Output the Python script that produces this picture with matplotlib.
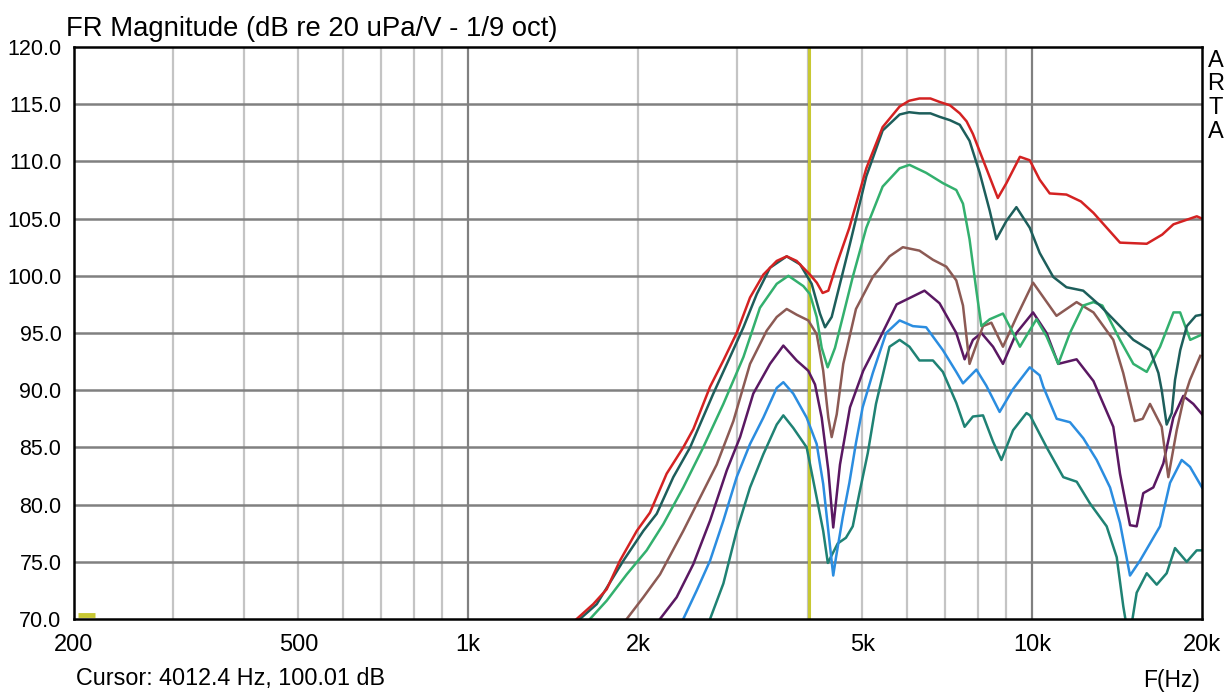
import numpy as np
import matplotlib.pyplot as plt

plt.rcParams['font.family'] = ['Liberation Sans', 'DejaVu Sans']

# curve data (Hz, dB)
red_f = [1557, 1666, 1760, 1858, 1990, 2100, 2248, 2406, 2507, 2684, 2834, 2992, 3160, 3336,
         3524, 3670, 3822, 4036, 4150, 4250, 4350, 4500, 4740, 5080, 5430, 5820, 6050, 6310, 6600,
         6850, 7150, 7440, 7650, 7850, 8290, 8690, 9000, 9510, 9900, 10310, 10740, 11500, 12200,
         12840, 14310, 15960, 17000, 17800, 19580, 20000]
red_db = [70.0, 71.3, 72.6, 75.1, 77.7, 79.3, 82.7, 85.0, 86.6, 90.3, 92.6, 95.0, 98.1, 100.1,
          101.3, 101.7, 101.3, 100.1, 99.4, 98.5, 98.7, 101.0, 104.2, 109.4, 113.0, 114.8, 115.3, 115.5, 115.5,
          115.2, 114.9, 114.2, 113.5, 112.4, 109.4, 106.8, 108.1, 110.4, 110.1, 108.4, 107.2, 107.1, 106.5,
          105.5, 102.9, 102.8, 103.6, 104.5, 105.2, 105.0]

dteal_f = [1578, 1690, 1884, 2044, 2159, 2310, 2474, 2720, 2912, 3076, 3248, 3428, 3670, 3876,
           4064, 4204, 4292, 4410, 4562, 4752, 5080, 5430, 5820, 6050, 6310, 6600, 6850, 7150, 7440,
           7742, 8070, 8406, 8638, 9000, 9374, 9900, 10310, 10896, 11500, 12314, 13188, 14310, 15112,
           16182, 16740, 16966, 17314, 17674, 17914, 18300, 18798, 19500, 20000]
dteal_db = [70.0, 71.3, 75.1, 77.7, 79.2, 82.4, 85.0, 89.7, 92.9, 95.5, 98.4, 100.7, 101.7, 101.0,
            99.3, 96.7, 95.5, 96.4, 99.3, 102.8, 108.7, 112.7, 114.1, 114.3, 114.2, 114.2, 113.9, 113.6, 113.2,
            111.8, 109.0, 105.7, 103.2, 104.8, 106.0, 104.2, 102.0, 99.9, 99.0, 98.7, 97.4, 95.6, 94.4,
            93.5, 91.5, 90.0, 87.0, 88.0, 90.9, 93.5, 95.6, 96.5, 96.6]

green_f = [1644, 1760, 1910, 2072, 2218, 2406, 2610, 2834, 3076, 3290, 3524, 3696, 3928, 4036,
           4148, 4234, 4338, 4470, 4614, 4806, 5080, 5430, 5820, 6058, 6486, 6944, 7334, 7538,
           7742, 7962, 8126, 8406, 8874, 9248, 9510, 9836, 10176, 10604, 11122, 11664, 12314,
           12840, 13316, 14310, 15112, 15960, 16854, 17800, 18292, 19060, 19860]
green_db = [70.0, 71.6, 73.9, 76.0, 78.3, 81.5, 85.0, 88.8, 92.9, 97.2, 99.3, 100.0, 99.1, 98.4,
            96.4, 93.7, 92.0, 93.7, 96.4, 99.9, 104.2, 107.8, 109.4, 109.7, 109.0, 108.1, 107.5, 106.3,
            103.2, 98.7, 95.6, 96.2, 96.7, 95.0, 93.8, 95.0, 96.2, 94.7, 92.3, 95.0, 97.4,
            97.7, 97.4, 94.4, 92.3, 91.6, 93.8, 96.8, 96.8, 94.4, 94.8]

brown_f = [1910, 2044, 2188, 2406, 2576, 2758, 2952, 3160, 3382, 3524, 3670, 3822, 4008, 4148,
           4260, 4350, 4410, 4502, 4624, 4870, 5216, 5584, 5896, 6310, 6668, 7042, 7334, 7538,
           7742, 8180, 8464, 8874, 9400, 10034, 11042, 11986, 12840, 13924, 14500, 15200, 15700,
           16174, 16966, 17430, 18038, 18528, 19042, 19860]
brown_db = [70.0, 71.9, 73.9, 77.7, 80.6, 83.5, 87.3, 92.3, 95.2, 96.4, 97.1, 96.6, 96.1, 94.9,
            91.7, 87.6, 85.9, 87.9, 92.3, 97.1, 99.9, 101.7, 102.5, 102.2, 101.4, 100.8, 99.6, 97.4,
            92.3, 95.6, 95.9, 93.8, 96.5, 99.4, 96.5, 97.7, 96.8, 94.4, 91.5, 87.3, 87.5,
            88.8, 86.8, 82.4, 86.5, 89.1, 90.9, 93.0]

purple_f = [2188, 2342, 2507, 2684, 2874, 3034, 3202, 3428, 3620, 3822, 4008, 4120, 4234, 4350,
            4438, 4562, 4752, 5016, 5300, 5748, 6144, 6442, 6850, 7334, 7588, 7850, 8126, 8522,
            8874, 9374, 10034, 10604, 11122, 11986, 12840, 13924, 14310, 14906, 15318, 15736,
            16394, 17078, 17790, 18528, 19304, 20000]
purple_db = [70.0, 71.9, 74.8, 78.6, 83.0, 85.9, 89.7, 92.3, 93.9, 92.6, 91.7, 90.5, 87.6, 83.0,
             78.0, 83.5, 88.5, 91.7, 94.0, 97.5, 98.2, 98.7, 97.6, 95.0, 92.7, 94.4, 95.0, 93.8,
             92.3, 95.0, 96.8, 95.0, 92.3, 92.7, 90.8, 86.8, 82.7, 78.2, 78.1, 81.0,
             81.5, 83.6, 87.6, 89.5, 88.8, 87.9]

blue_f = [2406, 2542, 2684, 2834, 2992, 3160, 3336, 3524, 3620, 3770, 3982, 4148, 4260, 4350,
          4438, 4489, 4614, 4740, 4870, 5004, 5216, 5508, 5820, 6144, 6486, 6944, 7334, 7538,
          7962, 8290, 8754, 9248, 9900, 10310, 10462, 11052, 11668, 12318, 13012, 13740, 14310,
          14906, 15526, 16174, 16848, 17552, 18408, 19042, 20000]
blue_db = [70.0, 72.5, 75.1, 78.6, 82.4, 85.3, 87.6, 90.2, 90.7, 89.7, 87.6, 85.3, 81.8, 77.7,
           73.8, 75.4, 78.9, 81.9, 85.4, 88.5, 91.5, 95.0, 96.1, 95.6, 95.5, 93.5, 91.6, 90.6,
           91.8, 90.4, 88.1, 90.1, 92.0, 91.3, 90.3, 87.5, 87.2, 85.8, 83.9, 81.5, 78.4,
           73.8, 75.1, 76.6, 78.1, 81.9, 83.9, 83.3, 81.5]

teal_f = [2684, 2834, 2992, 3160, 3336, 3524, 3620, 3770, 3982, 4148, 4260, 4341, 4520, 4674,
          4806, 4938, 5110, 5284, 5584, 5820, 6058, 6310, 6668, 6944, 7334, 7588, 7850, 8180,
          8522, 8818, 9248, 9768, 9910, 10608, 11352, 11992, 12660, 13552, 14120, 14504, 14800,
          15000, 15318, 15960, 16624, 17314, 17914, 18790, 19572, 20000]
teal_db = [70.0, 73.1, 77.7, 81.5, 84.4, 87.0, 87.8, 86.7, 85.0, 80.6, 77.7, 74.9, 76.6, 77.1,
           78.1, 81.0, 84.5, 88.8, 93.8, 94.4, 93.8, 92.6, 92.6, 91.6, 88.9, 86.8, 87.7, 87.8,
           85.5, 83.9, 86.5, 88.0, 87.8, 85.0, 82.4, 82.0, 80.1, 78.1, 75.4, 71.1, 68.5,
           69.5, 72.3, 74.0, 73.0, 74.0, 76.2, 75.0, 76.0, 76.0]

curves = [
    (teal_f, teal_db, '#1f8274'),
    (blue_f, blue_db, '#2b8de0'),
    (purple_f, purple_db, '#5a1862'),
    (brown_f, brown_db, '#8c5a54'),
    (green_f, green_db, '#33b06e'),
    (dteal_f, dteal_db, '#1d5e5b'),
    (red_f, red_db, '#d42222'),
]

cursor_f = 4012.4
cursor_db = 100.01
light_grid = [300, 400, 500, 600, 700, 800, 900, 2000, 3000, 4000, 5000, 6000, 7000, 8000, 9000]
dark_grid = [1000, 10000]
y_grid = [75, 80, 85, 90, 95, 100, 105, 110, 115]
xtick_vals = [200, 500, 1000, 2000, 5000, 10000, 20000]
xtick_labels = ['200', '500', '1k', '2k', '5k', '10k', '20k']
ytick_vals = [70, 75, 80, 85, 90, 95, 100, 105, 110, 115, 120]
marker_f = [203, 218]
marker_db = [70.35, 70.35]

fig = plt.figure(figsize=(12.27, 6.92), dpi=100)
ax = fig.add_axes([74 / 1227, 73 / 692, 1128 / 1227, 572 / 692])
ax.set_xscale('log')
ax.set_xlim(200, 20000)
ax.set_ylim(70, 120)

for f in light_grid:
    ax.axvline(f, color='#c4c4c4', lw=1.6, zorder=1)
for f in dark_grid:
    ax.axvline(f, color='#808080', lw=1.6, zorder=1)
for y in y_grid:
    ax.axhline(y, color='#808080', lw=1.8, zorder=1)

ax.axvline(cursor_f, color='#c8c832', lw=2.2, zorder=2)
ax.plot(marker_f, marker_db, color='#c8c832', lw=3.5, solid_capstyle='butt', zorder=2)

for f, db, c in curves:
    ax.plot(f, db, color=c, lw=1.8, zorder=3, solid_joinstyle='round')

ax.set_xticks(xtick_vals)
ax.set_xticklabels(xtick_labels)
ax.set_xticks([], minor=True)
ax.set_yticks(ytick_vals)
ax.set_yticklabels(['%.1f' % v for v in ytick_vals])
ax.tick_params(axis='both', length=0)
ax.tick_params(axis='x', pad=11, labelsize=17)
ax.tick_params(axis='y', pad=9, labelsize=15.5)
for s in ax.spines.values():
    s.set_linewidth(1.8)
    s.set_color('black')
    s.set_zorder(5)

fig.text(66 / 1227, 1 - 29 / 692, 'FR Magnitude (dB re 20 uPa/V - 1/9 oct)',
         fontsize=19.8, ha='left', va='center')
fig.text(76 / 1227, 1 - 679 / 692, 'Cursor: %.1f Hz, %.2f dB' % (cursor_f, cursor_db),
         fontsize=16.8, ha='left', va='center')
fig.text(1200 / 1227, 1 - 681 / 692, 'F(Hz)', fontsize=16.5, ha='right', va='center')
for i, ch in enumerate('ARTA'):
    fig.text(1216 / 1227, 1 - (61 + 23.5 * i) / 692, ch, fontsize=17, ha='center', va='center')

fig.savefig('out.png', dpi=100)
